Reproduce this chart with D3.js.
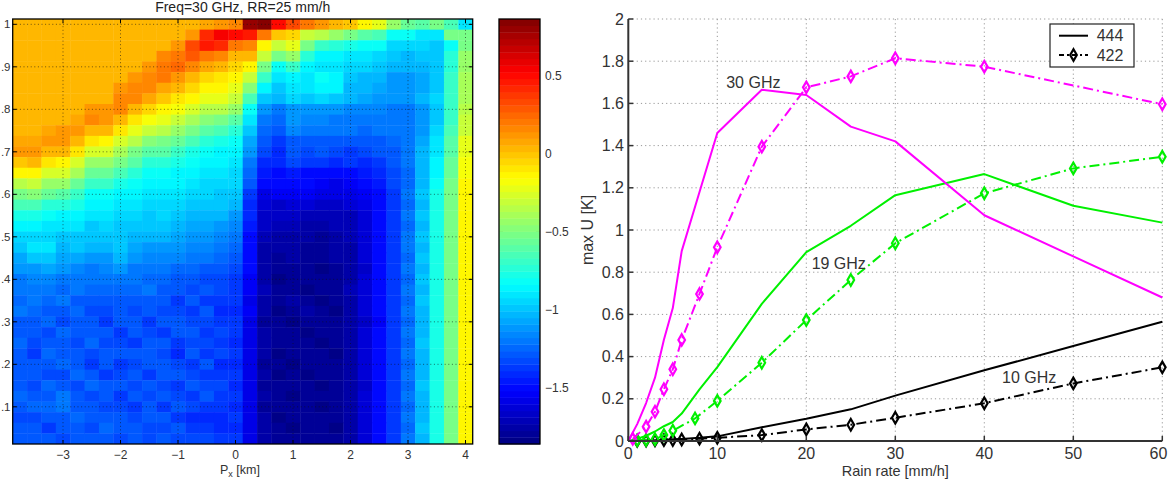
<!DOCTYPE html>
<html>
<head>
<meta charset="utf-8">
<script src="https://cdn.jsdelivr.net/npm/d3@7"></script>
<style>
body { margin: 0; background: #fff; }
svg { display: block; font-family: "Liberation Sans", Arial, sans-serif; }
</style>
</head>
<body>
<svg width="1169" height="479"></svg>
<script>
// ---- left panel: P_x / height map at 30 GHz, 25 mm/h
var pxCenters = [-3.75,-3.5,-3.25,-3,-2.75,-2.5,-2.25,-2,-1.75,-1.5,-1.25,-1,-0.75,-0.5,-0.25,0,
	0.25,0.5,0.75,1,1.25,1.5,1.75,2,2.25,2.5,2.75,3,3.25,3.5,3.75,4];
var pyCenters = [1,0.975,0.95,0.925,0.9,0.875,0.85,0.825,0.8,0.775,0.75,0.725,0.7,0.675,0.65,0.625,
	0.6,0.575,0.55,0.525,0.5,0.475,0.45,0.425,0.4,0.375,0.35,0.325,0.3,0.275,0.25,0.225,
	0.2,0.175,0.15,0.125,0.1,0.075,0.05,0.025];
var uRows = [
[0.03,0.03,0.03,0.03,0.03,0.03,0.03,0.03,0.03,0.03,0.03,0.03,0.03,0.08,0.1,0.15,0.82,0.85,0.5,0.35,0.2,0.12,0.05,-0.02,-0.12,-0.2,-0.45,-0.55,-0.6,-0.5,-0.65,-0.9],
[0.03,0.03,0.03,0.03,0.03,0.03,0.03,0.03,0.03,0.03,0.03,0.03,0.1,0.4,0.55,0.5,0.45,0.2,0,-0.05,-0.3,-0.35,-0.45,-0.5,-0.62,-0.65,-0.8,-0.82,-0.92,-0.9,-0.5,-0.5],
[0.03,0.03,0.03,0.03,0.03,0.03,0.03,0.03,0.03,0.03,0.03,0.12,0.35,0.45,0.42,0.2,0.18,-0.12,-0.3,-0.2,-0.5,-0.7,-0.75,-0.78,-0.8,-0.82,-0.95,-0.95,-0.95,-0.98,-0.8,-0.5],
[0.03,0.03,0.03,0.03,0.03,0.03,0.03,0.03,0.03,0.03,0.15,0.22,0.3,0.2,0.15,0.04,0.04,-0.3,-0.5,-0.45,-0.75,-0.85,-0.88,-0.9,-0.92,-0.95,-1,-1.02,-1,-1,-0.72,-0.45],
[0.03,0.03,0.03,0.03,0.03,0.03,0.03,0.03,0.03,0.1,0.2,0.25,0.15,0.06,0.03,-0.06,-0.12,-0.5,-0.8,-0.7,-0.85,-0.9,-0.9,-0.95,-0.96,-1,-1.02,-1.05,-1.02,-1,-0.72,-0.42],
[0.03,0.03,0.03,0.03,0.03,0.03,0.03,0.03,0.1,0.16,0.2,0.12,0.03,-0.04,-0.08,-0.14,-0.3,-0.68,-0.9,-0.88,-0.9,-0.82,-0.84,-1,-1.02,-1.04,-1.1,-1.1,-1.08,-0.98,-0.7,-0.4],
[0.03,0.03,0.03,0.03,0.03,0.03,0.03,0.1,0.15,0.18,0.08,0.02,-0.06,-0.12,-0.15,-0.2,-0.48,-0.84,-1,-0.92,-0.9,-0.84,-0.85,-1.02,-1.05,-1.06,-1.1,-1.12,-1.08,-0.98,-0.7,-0.4],
[0.03,0.03,0.03,0.03,0.03,0.03,0.03,0.15,0.16,0.06,-0.02,-0.08,-0.15,-0.2,-0.22,-0.3,-0.65,-0.97,-1.05,-0.96,-0.98,-0.95,-1,-1.05,-1.08,-1.1,-1.1,-1.1,-1.05,-0.95,-0.68,-0.38],
[0.03,0.03,0.03,0.03,0.03,0.1,0.12,0.15,0.04,-0.05,-0.12,-0.18,-0.26,-0.33,-0.36,-0.45,-0.8,-1.1,-1.2,-1.1,-1.1,-1.1,-1.12,-1.15,-1.15,-1.15,-1.2,-1.2,-1.12,-1,-0.7,-0.33],
[0.03,0.03,0.03,0.03,0.06,0.15,0.13,0.03,-0.08,-0.18,-0.24,-0.3,-0.4,-0.48,-0.52,-0.6,-0.92,-1.2,-1.26,-1.12,-1.14,-1.15,-1.18,-1.2,-1.2,-1.18,-1.22,-1.22,-1.1,-0.98,-0.68,-0.3],
[0.03,0.03,0.07,0.1,0.14,0.04,0.02,-0.1,-0.22,-0.32,-0.36,-0.44,-0.54,-0.62,-0.66,-0.72,-0.98,-1.24,-1.28,-1.15,-1.2,-1.18,-1.2,-1.22,-1.24,-1.22,-1.2,-1.2,-1.1,-0.95,-0.65,-0.3],
[0.06,0.08,0.13,0.12,0.03,-0.1,-0.12,-0.25,-0.36,-0.46,-0.5,-0.57,-0.66,-0.74,-0.77,-0.8,-1.08,-1.3,-1.38,-1.28,-1.3,-1.28,-1.3,-1.3,-1.3,-1.28,-1.25,-1.2,-1.08,-0.92,-0.6,-0.22],
[0.12,0.14,0.04,0.02,-0.1,-0.26,-0.28,-0.4,-0.5,-0.6,-0.62,-0.68,-0.76,-0.82,-0.84,-0.86,-1.12,-1.33,-1.4,-1.3,-1.32,-1.3,-1.34,-1.35,-1.34,-1.3,-1.28,-1.22,-1.05,-0.9,-0.6,-0.2],
[0,0.02,-0.1,-0.12,-0.25,-0.42,-0.44,-0.54,-0.62,-0.72,-0.72,-0.77,-0.83,-0.87,-0.88,-0.9,-1.22,-1.42,-1.42,-1.34,-1.36,-1.38,-1.4,-1.38,-1.4,-1.35,-1.3,-1.22,-1.05,-0.88,-0.58,-0.18],
[-0.15,-0.12,-0.26,-0.28,-0.4,-0.57,-0.58,-0.66,-0.73,-0.8,-0.8,-0.84,-0.88,-0.9,-0.91,-0.93,-1.26,-1.45,-1.5,-1.45,-1.48,-1.5,-1.5,-1.48,-1.45,-1.4,-1.32,-1.25,-1.02,-0.85,-0.55,-0.17],
[-0.33,-0.3,-0.42,-0.44,-0.55,-0.7,-0.7,-0.76,-0.82,-0.86,-0.86,-0.88,-0.92,-0.93,-0.94,-0.96,-1.3,-1.5,-1.52,-1.5,-1.52,-1.55,-1.58,-1.55,-1.5,-1.45,-1.34,-1.24,-1.02,-0.8,-0.54,-0.15],
[-0.5,-0.48,-0.58,-0.6,-0.68,-0.8,-0.8,-0.84,-0.88,-0.9,-0.9,-0.92,-0.95,-0.96,-0.97,-1,-1.35,-1.58,-1.55,-1.55,-1.56,-1.6,-1.6,-1.6,-1.55,-1.48,-1.35,-1.22,-1,-0.78,-0.52,-0.14],
[-0.65,-0.63,-0.72,-0.74,-0.78,-0.87,-0.86,-0.9,-0.92,-0.94,-0.93,-0.95,-0.98,-0.99,-1,-1.04,-1.4,-1.62,-1.65,-1.62,-1.64,-1.65,-1.66,-1.64,-1.6,-1.5,-1.36,-1.23,-1.02,-0.77,-0.5,-0.13],
[-0.78,-0.76,-0.82,-0.84,-0.86,-0.92,-0.9,-0.94,-0.96,-0.97,-0.96,-0.98,-1.02,-1.03,-1.05,-1.1,-1.42,-1.65,-1.68,-1.66,-1.7,-1.7,-1.72,-1.7,-1.62,-1.52,-1.35,-1.22,-1,-0.78,-0.52,-0.14],
[-0.88,-0.86,-0.9,-0.9,-0.92,-0.97,-0.95,-0.98,-1,-1,-1,-1.02,-1.06,-1.08,-1.1,-1.15,-1.45,-1.68,-1.7,-1.72,-1.74,-1.75,-1.73,-1.7,-1.64,-1.5,-1.36,-1.24,-1.02,-0.76,-0.5,-0.13],
[-0.95,-0.93,-0.95,-0.97,-0.97,-1,-1,-1,-1.03,-1.04,-1.04,-1.06,-1.1,-1.12,-1.14,-1.2,-1.48,-1.72,-1.74,-1.75,-1.76,-1.78,-1.75,-1.72,-1.62,-1.52,-1.35,-1.22,-1,-0.78,-0.5,-0.12],
[-1,-0.92,-0.9,-1.02,-1,-1.05,-1.02,-0.98,-1.08,-1.1,-1.1,-1.1,-1.14,-1.16,-1.18,-1.25,-1.5,-1.74,-1.76,-1.74,-1.78,-1.8,-1.77,-1.74,-1.64,-1.5,-1.36,-1.22,-1.02,-0.77,-0.52,-0.13],
[-1.06,-1,-0.98,-1.06,-1.08,-1.1,-1.1,-1.05,-1.12,-1.14,-1.16,-1.16,-1.2,-1.22,-1.24,-1.3,-1.52,-1.75,-1.78,-1.76,-1.8,-1.78,-1.76,-1.75,-1.63,-1.52,-1.35,-1.23,-1,-0.78,-0.5,-0.12],
[-1.12,-1.1,-1.08,-1.12,-1.15,-1.18,-1.15,-1.12,-1.18,-1.2,-1.22,-1.24,-1.26,-1.28,-1.3,-1.34,-1.5,-1.76,-1.8,-1.78,-1.8,-1.82,-1.78,-1.74,-1.66,-1.5,-1.36,-1.22,-1.02,-0.77,-0.52,-0.12],
[-1.18,-1.15,-1.15,-1.18,-1.22,-1.22,-1.2,-1.18,-1.2,-1.25,-1.26,-1.28,-1.3,-1.32,-1.34,-1.36,-1.55,-1.74,-1.82,-1.8,-1.78,-1.8,-1.8,-1.76,-1.64,-1.52,-1.35,-1.24,-1,-0.76,-0.5,-0.13],
[-1.2,-1.22,-1.18,-1.26,-1.2,-1.26,-1.24,-1.25,-1.26,-1.22,-1.3,-1.3,-1.33,-1.3,-1.32,-1.38,-1.56,-1.72,-1.78,-1.8,-1.82,-1.78,-1.8,-1.72,-1.62,-1.5,-1.36,-1.22,-1.02,-0.78,-0.52,-0.12],
[-1.25,-1.2,-1.24,-1.22,-1.28,-1.3,-1.28,-1.3,-1.3,-1.28,-1.27,-1.36,-1.3,-1.35,-1.36,-1.35,-1.58,-1.76,-1.8,-1.76,-1.8,-1.84,-1.8,-1.74,-1.64,-1.52,-1.35,-1.24,-1,-0.77,-0.5,-0.13],
[-1.22,-1.26,-1.3,-1.28,-1.25,-1.33,-1.32,-1.27,-1.34,-1.3,-1.33,-1.32,-1.36,-1.3,-1.4,-1.4,-1.56,-1.74,-1.82,-1.8,-1.76,-1.8,-1.82,-1.75,-1.62,-1.5,-1.37,-1.22,-1.02,-0.76,-0.52,-0.12],
[-1.28,-1.3,-1.26,-1.32,-1.3,-1.3,-1.35,-1.3,-1.3,-1.38,-1.3,-1.3,-1.32,-1.34,-1.35,-1.38,-1.6,-1.78,-1.8,-1.82,-1.8,-1.78,-1.8,-1.76,-1.65,-1.53,-1.36,-1.23,-1.01,-0.78,-0.5,-0.13],
[-1.3,-1.28,-1.34,-1.26,-1.27,-1.27,-1.3,-1.36,-1.28,-1.32,-1.36,-1.27,-1.3,-1.38,-1.33,-1.36,-1.57,-1.75,-1.78,-1.8,-1.84,-1.8,-1.78,-1.74,-1.63,-1.5,-1.35,-1.22,-1.02,-0.77,-0.52,-0.12],
[-1.25,-1.32,-1.28,-1.3,-1.33,-1.25,-1.33,-1.32,-1.35,-1.3,-1.3,-1.35,-1.34,-1.32,-1.38,-1.4,-1.58,-1.77,-1.8,-1.78,-1.8,-1.82,-1.8,-1.75,-1.64,-1.52,-1.36,-1.23,-1,-0.76,-0.5,-0.13],
[-1.3,-1.36,-1.25,-1.28,-1.3,-1.32,-1.3,-1.28,-1.3,-1.27,-1.34,-1.4,-1.3,-1.35,-1.34,-1.38,-1.6,-1.75,-1.82,-1.8,-1.78,-1.8,-1.84,-1.76,-1.62,-1.5,-1.35,-1.22,-1.02,-0.78,-0.52,-0.12],
[-1.27,-1.3,-1.3,-1.25,-1.28,-1.35,-1.27,-1.38,-1.32,-1.3,-1.3,-1.33,-1.38,-1.3,-1.4,-1.42,-1.57,-1.78,-1.8,-1.82,-1.8,-1.78,-1.8,-1.74,-1.64,-1.52,-1.36,-1.24,-1.01,-0.77,-0.5,-0.13],
[-1.3,-1.27,-1.33,-1.32,-1.26,-1.3,-1.35,-1.33,-1.28,-1.35,-1.28,-1.3,-1.33,-1.36,-1.36,-1.38,-1.58,-1.76,-1.82,-1.8,-1.82,-1.8,-1.78,-1.75,-1.63,-1.5,-1.35,-1.22,-1.02,-0.76,-0.52,-0.12],
[-1.28,-1.32,-1.26,-1.3,-1.34,-1.26,-1.3,-1.3,-1.33,-1.3,-1.34,-1.36,-1.3,-1.33,-1.33,-1.4,-1.6,-1.78,-1.8,-1.78,-1.8,-1.84,-1.8,-1.76,-1.65,-1.52,-1.37,-1.23,-1,-0.78,-0.5,-0.13],
[-1.25,-1.3,-1.29,-1.22,-1.3,-1.32,-1.28,-1.35,-1.3,-1.33,-1.3,-1.32,-1.35,-1.3,-1.38,-1.36,-1.57,-1.75,-1.78,-1.82,-1.8,-1.78,-1.8,-1.74,-1.63,-1.5,-1.35,-1.22,-1.02,-0.77,-0.52,-0.12],
[-1.3,-1.26,-1.24,-1.2,-1.28,-1.3,-1.32,-1.32,-1.35,-1.28,-1.37,-1.3,-1.32,-1.36,-1.35,-1.4,-1.6,-1.78,-1.8,-1.8,-1.78,-1.82,-1.8,-1.75,-1.64,-1.52,-1.36,-1.23,-1.01,-0.78,-0.5,-0.13],
[-1.33,-1.32,-1.3,-1.3,-1.25,-1.27,-1.3,-1.28,-1.32,-1.3,-1.3,-1.35,-1.4,-1.42,-1.4,-1.38,-1.58,-1.76,-1.82,-1.78,-1.8,-1.8,-1.78,-1.74,-1.62,-1.5,-1.35,-1.22,-1.02,-0.76,-0.52,-0.12],
[-1.28,-1.3,-1.35,-1.27,-1.3,-1.33,-1.26,-1.3,-1.28,-1.34,-1.32,-1.3,-1.35,-1.35,-1.42,-1.42,-1.6,-1.77,-1.8,-1.82,-1.78,-1.8,-1.82,-1.76,-1.64,-1.52,-1.36,-1.23,-1,-0.77,-0.5,-0.13],
[-1.3,-1.27,-1.28,-1.32,-1.29,-1.3,-1.3,-1.33,-1.3,-1.31,-1.3,-1.33,-1.32,-1.33,-1.36,-1.38,-1.58,-1.75,-1.78,-1.8,-1.78,-1.8,-1.78,-1.74,-1.62,-1.5,-1.35,-1.22,-1.02,-0.78,-0.52,-0.12]
];
var xTicksL = [-3,-2,-1,0,1,2,3,4];
var yTicksL = [0.1,0.2,0.3,0.4,0.5,0.6,0.7,0.8,0.9,1];
var cbTicks = [-1.5,-1,-0.5,0,0.5];
var cmin = -1.861, cmax = 0.866;

// ---- right panel: max U vs rain rate
var rr444 = [0,1,2,3,4,5,6,8,10,15,20,25,30,40,50,60];
var u444_10 = [0,0.001,0.002,0.004,0.006,0.008,0.01,0.015,0.022,0.065,0.105,0.15,0.215,0.335,0.45,0.565];
var u444_19 = [0,0.01,0.025,0.045,0.07,0.09,0.13,0.245,0.35,0.65,0.895,1.02,1.165,1.265,1.115,1.035];
var u444_30 = [0,0.08,0.18,0.3,0.48,0.63,0.9,1.18,1.46,1.665,1.64,1.49,1.42,1.07,0.875,0.68];
var rr422_10 = [1,2,3,4,5,6,8,10,15,20,25,30,40,50,60];
var u422_10 = [0.001,0.002,0.003,0.004,0.005,0.007,0.011,0.015,0.028,0.055,0.077,0.11,0.179,0.273,0.349];
var rr422_19 = [1,2,3,4,5,7.5,10,15,20,25,30,40,50,60];
var u422_19 = [0.003,0.005,0.008,0.028,0.049,0.107,0.19,0.371,0.573,0.763,0.937,1.174,1.292,1.347];
var rr422_30 = [0.5,2,3,4,5,6,8,10,15,20,25,30,40,60];
var u422_30 = [0.01,0.068,0.139,0.245,0.34,0.479,0.697,0.918,1.395,1.676,1.728,1.814,1.774,1.596];
var xTicksR = [0,10,20,30,40,50,60];
var yTicksR = [0,0.2,0.4,0.6,0.8,1,1.2,1.4,1.6,1.8,2];
var freqLabels = ["30 GHz", "19 GHz", "10 GHz"];
var legendLabels = ["444", "422"];

var svg = d3.select("svg");
var fmt = function(v) { return String(v).replace("-", "\u2212"); };
// the left axis labels are clipped by the figure edge: only ".9" etc. shows
var fmtClip = function(v) { return String(v).replace(/^0\./, "."); };

function jet(v) {
	var f = (v - cmin) / (cmax - cmin);
	var i = Math.max(0, Math.min(63, Math.floor(f * 64)));
	f = (i + 0.5) / 64;
	function c(t) { return Math.round(255 * Math.max(0, Math.min(1, 1.5 - Math.abs(t)))); }
	return d3.rgb(c(4 * f - 3), c(4 * f - 2), c(4 * f - 1));
}

// heatmap
var hm = {left: 12.7, right: 472.7, top: 19, bottom: 444};
var dx = pxCenters[1] - pxCenters[0], dy = pyCenters[0] - pyCenters[1];
var x = d3.scaleLinear()
	.domain([pxCenters[0] - dx / 2, pxCenters[pxCenters.length - 1] + dx / 2])
	.range([hm.left, hm.right]);
var y = d3.scaleLinear()
	.domain([pyCenters[pyCenters.length - 1] - dy / 2, pyCenters[0] + dy / 2])
	.range([hm.bottom, hm.top]);

svg.append("clipPath").attr("id", "hmclip")
	.append("rect")
	.attr("x", hm.left).attr("y", hm.top)
	.attr("width", hm.right - hm.left).attr("height", hm.bottom - hm.top);

var cells = [];
uRows.forEach(function(row, j) {
	row.forEach(function(v, i) {
		cells.push({x: pxCenters[i], y: pyCenters[j], v: v});
	});
});
svg.append("g")
	.attr("clip-path", "url(#hmclip)")
	.selectAll("rect")
	.data(cells)
	.join("rect")
	.attr("x", function(d) { return x(d.x - dx / 2); })
	.attr("y", function(d) { return y(d.y + dy / 2); })
	.attr("width", x(dx) - x(0) + 0.4)
	.attr("height", y(0) - y(dy) + 0.4)
	.attr("fill", function(d) { return jet(d.v); });

var gl = svg.append("g")
	.attr("stroke", "#111")
	.attr("stroke-opacity", 0.6)
	.attr("stroke-width", 1)
	.attr("stroke-dasharray", "1,2.6");
gl.selectAll(".vx").data(xTicksL).join("line")
	.attr("x1", x).attr("x2", x)
	.attr("y1", hm.top).attr("y2", hm.bottom);
gl.selectAll(".hy").data(yTicksL).join("line")
	.attr("x1", hm.left).attr("x2", hm.right)
	.attr("y1", y).attr("y2", y);

var tk = svg.append("g").attr("stroke", "#000").attr("stroke-width", 1);
xTicksL.forEach(function(t) {
	tk.append("line").attr("x1", x(t)).attr("x2", x(t)).attr("y1", hm.bottom).attr("y2", hm.bottom - 4);
	tk.append("line").attr("x1", x(t)).attr("x2", x(t)).attr("y1", hm.top).attr("y2", hm.top + 4);
});
yTicksL.forEach(function(t) {
	tk.append("line").attr("x1", hm.left).attr("x2", hm.left + 4).attr("y1", y(t)).attr("y2", y(t));
	tk.append("line").attr("x1", hm.right).attr("x2", hm.right - 4).attr("y1", y(t)).attr("y2", y(t));
});
svg.append("rect")
	.attr("x", hm.left).attr("y", hm.top)
	.attr("width", hm.right - hm.left).attr("height", hm.bottom - hm.top)
	.attr("fill", "none").attr("stroke", "#000").attr("stroke-width", 1.3);

svg.append("g").selectAll("text").data(xTicksL).join("text")
	.attr("x", x).attr("y", 458.5)
	.attr("text-anchor", "middle")
	.attr("font-size", 12).attr("fill", "#333")
	.text(fmt);
svg.append("g").selectAll("text").data(yTicksL).join("text")
	.attr("x", 10.5).attr("y", y).attr("dy", "0.35em")
	.attr("text-anchor", "end")
	.attr("font-size", 11.5).attr("fill", "#333")
	.text(fmtClip);

svg.append("text")
	.attr("x", (hm.left + hm.right) / 2).attr("y", 11.5)
	.attr("text-anchor", "middle")
	.attr("font-size", 14).attr("fill", "#222")
	.text("Freq=30 GHz, RR=25 mm/h");

var xl = svg.append("text")
	.attr("x", 220).attr("y", 474)
	.attr("font-size", 12.5).attr("fill", "#333");
xl.append("tspan").text("P");
xl.append("tspan").attr("font-size", 9).attr("dy", 3).text("x");
xl.append("tspan").attr("dy", -3).text(" [km]");

// colorbar
var cb = {left: 499, right: 540, top: 19, bottom: 444};
var cy = d3.scaleLinear().domain([cmin, cmax]).range([cb.bottom, cb.top]);
var cstep = (cmax - cmin) / 64;
svg.append("g").selectAll("rect").data(d3.range(64)).join("rect")
	.attr("x", cb.left).attr("width", cb.right - cb.left)
	.attr("y", function(i) { return cy(cmin + (i + 1) * cstep); })
	.attr("height", cy(cmin) - cy(cmin + cstep) + 0.4)
	.attr("fill", function(i) { return jet(cmin + (i + 0.5) * cstep); });
cbTicks.forEach(function(t) {
	tk.append("line").attr("x1", cb.left).attr("x2", cb.left + 4).attr("y1", cy(t)).attr("y2", cy(t));
	tk.append("line").attr("x1", cb.right).attr("x2", cb.right - 4).attr("y1", cy(t)).attr("y2", cy(t));
});
svg.append("rect")
	.attr("x", cb.left).attr("y", cb.top)
	.attr("width", cb.right - cb.left).attr("height", cb.bottom - cb.top)
	.attr("fill", "none").attr("stroke", "#000").attr("stroke-width", 1.3);
svg.append("g").selectAll("text").data(cbTicks).join("text")
	.attr("x", 545).attr("y", cy).attr("dy", "0.35em")
	.attr("font-size", 12).attr("fill", "#333")
	.text(fmt);

// ---- right panel
var lp = {left: 628.3, right: 1162.3, top: 19, bottom: 441};
var xr = d3.scaleLinear().domain([0, 60]).range([lp.left, lp.right]);
var yr = d3.scaleLinear().domain([0, 2]).range([lp.bottom, lp.top]);

var gr = svg.append("g")
	.attr("stroke", "#999")
	.attr("stroke-width", 1)
	.attr("stroke-dasharray", "1.2,3");
gr.selectAll(".vx").data(xTicksR.slice(1)).join("line")
	.attr("x1", xr).attr("x2", xr)
	.attr("y1", lp.top).attr("y2", lp.bottom);
gr.selectAll(".hy").data(yTicksR.slice(1)).join("line")
	.attr("x1", lp.left).attr("x2", lp.right)
	.attr("y1", yr).attr("y2", yr);

var series = [
	{xs: rr444, ys: u444_10, color: "#000", dash: null, mark: false},
	{xs: rr422_10, ys: u422_10, color: "#000", dash: "10,4,2,4", mark: true},
	{xs: rr444, ys: u444_19, color: "#00f000", dash: null, mark: false},
	{xs: rr422_19, ys: u422_19, color: "#00f000", dash: "10,4,2,4", mark: true},
	{xs: rr444, ys: u444_30, color: "#ff00ff", dash: null, mark: false},
	{xs: rr422_30, ys: u422_30, color: "#ff00ff", dash: "10,4,2,4", mark: true}
];
var line = d3.line()
	.x(function(d) { return xr(d[0]); })
	.y(function(d) { return yr(d[1]); });
var diamond = d3.symbol().type(d3.symbolDiamond).size(38);

series.forEach(function(s) {
	var pts = s.xs.map(function(v, i) { return [v, s.ys[i]]; });
	svg.append("path")
		.datum(pts)
		.attr("fill", "none")
		.attr("stroke", s.color)
		.attr("stroke-width", 2)
		.attr("stroke-linejoin", "round")
		.attr("stroke-dasharray", s.dash)
		.attr("d", line);
	if (s.mark) {
		svg.append("g").selectAll("path").data(pts).join("path")
			.attr("transform", function(d) { return "translate(" + xr(d[0]) + "," + yr(d[1]) + ")"; })
			.attr("d", diamond)
			.attr("fill", "none")
			.attr("stroke", s.color)
			.attr("stroke-width", 2.2);
	}
});

// axes (box off)
var ax = svg.append("g").attr("stroke", "#333");
ax.append("line").attr("x1", lp.left).attr("x2", lp.left).attr("y1", lp.top).attr("y2", lp.bottom).attr("stroke-width", 2);
ax.append("line").attr("x1", lp.left).attr("x2", lp.right).attr("y1", lp.bottom).attr("y2", lp.bottom).attr("stroke-width", 2);
xTicksR.forEach(function(t) {
	ax.append("line").attr("x1", xr(t)).attr("x2", xr(t)).attr("y1", lp.bottom).attr("y2", lp.bottom - 5).attr("stroke-width", 1.5);
});
yTicksR.forEach(function(t) {
	ax.append("line").attr("x1", lp.left).attr("x2", lp.left + 5).attr("y1", yr(t)).attr("y2", yr(t)).attr("stroke-width", 1.5);
});

// last tick label sits on the figure edge: keep it inside
svg.append("g").selectAll("text").data(xTicksR).join("text")
	.attr("x", function(d) { return Math.min(xr(d), 1158.5); }).attr("y", 459)
	.attr("text-anchor", "middle")
	.attr("font-size", 16).attr("fill", "#333")
	.text(fmt);
svg.append("g").selectAll("text").data(yTicksR).join("text")
	.attr("x", 624).attr("y", yr).attr("dy", "0.35em")
	.attr("text-anchor", "end")
	.attr("font-size", 16).attr("fill", "#333")
	.text(fmt);

svg.append("text")
	.attr("x", xr(30)).attr("y", 475.8)
	.attr("text-anchor", "middle")
	.attr("font-size", 14.5).attr("fill", "#333")
	.text("Rain rate [mm/h]");
svg.append("text")
	.attr("transform", "translate(593," + yr(1.0) + ") rotate(-90)")
	.attr("text-anchor", "middle")
	.attr("font-size", 16).attr("fill", "#333")
	.text("max U [K]");

// frequency annotations
var annX = [11, 20.6, 42];
var annY = [1.675, 0.815, 0.275];
svg.append("g").selectAll("text").data(freqLabels).join("text")
	.attr("x", function(d, i) { return xr(annX[i]); })
	.attr("y", function(d, i) { return yr(annY[i]); })
	.attr("font-size", 16).attr("fill", "#333")
	.text(function(d) { return d; });

// legend
var lg = svg.append("g").attr("transform", "translate(1050,24)");
lg.append("rect").attr("width", 84).attr("height", 43)
	.attr("fill", "#fff").attr("stroke", "#222").attr("stroke-width", 1.2);
lg.append("line").attr("x1", 9).attr("x2", 38).attr("y1", 11.7).attr("y2", 11.7)
	.attr("stroke", "#000").attr("stroke-width", 2);
lg.append("line").attr("x1", 9).attr("x2", 38).attr("y1", 31).attr("y2", 31)
	.attr("stroke", "#000").attr("stroke-width", 2).attr("stroke-dasharray", "5,3,2,3");
lg.append("path").attr("transform", "translate(23.5,31)").attr("d", diamond)
	.attr("fill", "none").attr("stroke", "#000").attr("stroke-width", 2.2);
lg.selectAll("text").data(legendLabels).join("text")
	.attr("x", 46.7).attr("y", function(d, i) { return 11.7 + i * 19.3; }).attr("dy", "0.35em")
	.attr("font-size", 16).attr("fill", "#333")
	.text(function(d) { return d; });
</script>
</body>
</html>
